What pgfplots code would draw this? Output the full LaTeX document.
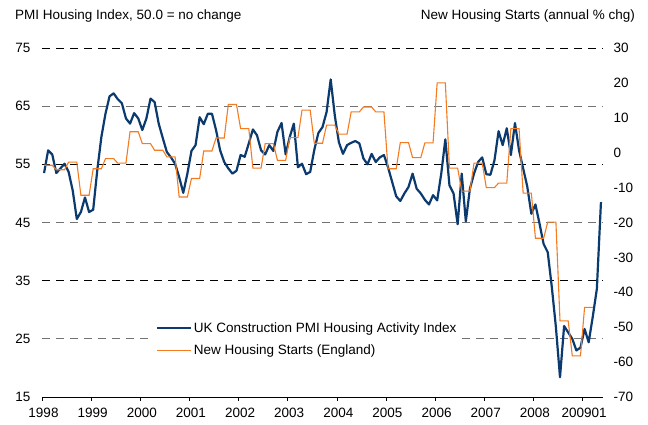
\documentclass[border=0pt]{standalone}
\usepackage{fontspec}
\setmainfont{Liberation Sans}
\usepackage{pgfplots}
\usepackage{pgfplotstable}
\pgfplotsset{compat=1.18}
\definecolor{pmiblue}{HTML}{0B3A6E}
\definecolor{hsorange}{HTML}{F47B20}

\pgfplotstableread{
m v
0 53.5
1 57.4
2 56.7
3 53.5
4 54.3
5 55.1
6 53.7
7 50.5
8 45.6
9 46.8
10 49.3
11 46.8
12 47.2
13 54.0
14 59.7
15 63.7
16 66.7
17 67.2
18 66.2
19 65.5
20 62.9
21 62.0
22 63.8
23 62.9
24 60.9
25 62.9
26 66.3
27 65.7
28 62.0
29 59.5
30 57.1
31 56.2
32 55.1
33 52.8
34 50.1
35 53.4
36 57.3
37 58.3
38 63.1
39 61.9
40 63.7
41 63.7
42 60.9
43 57.4
44 55.4
45 54.3
46 53.4
47 53.9
48 56.6
49 56.3
50 58.6
51 61.0
52 60.0
53 57.4
54 56.7
55 58.3
56 57.3
57 60.6
58 62.1
59 56.7
60 59.7
61 62.0
62 54.5
63 55.1
64 53.3
65 53.7
66 57.5
67 60.4
68 61.4
69 64.0
70 69.6
71 63.4
72 58.8
73 56.8
74 58.3
75 58.7
76 59.0
77 58.6
78 56.0
79 55.0
80 56.8
81 55.4
82 56.2
83 56.6
84 54.5
85 52.0
86 49.5
87 48.7
88 50.0
89 51.1
90 53.4
91 50.8
92 50.0
93 48.9
94 48.1
95 49.7
96 48.8
97 53.4
98 59.3
99 51.4
100 50.0
101 44.7
102 53.4
103 45.2
104 50.8
105 53.4
106 55.4
107 56.2
108 53.3
109 53.2
110 55.7
111 60.7
112 58.3
113 61.2
114 56.6
115 62.1
116 57.4
117 54.3
118 51.2
119 46.5
120 48.1
121 44.8
122 41.3
123 39.9
124 33.9
125 27.0
126 18.4
127 27.2
128 26.1
129 25.0
130 23.0
131 23.5
132 26.7
133 24.4
134 28.8
135 33.6
136 48.5
}\pmi

\pgfplotstableread{
m r
0 -3.6
1 -3.6
2 -3.6
3 -4.9
4 -4.9
5 -4.9
6 -2.7
7 -2.7
8 -2.7
9 -12.2
10 -12.2
11 -12.2
12 -4.6
13 -4.6
14 -4.6
15 -1.7
16 -1.7
17 -1.7
18 -3.0
19 -3.0
20 -3.0
21 6.0
22 6.0
23 6.0
24 2.6
25 2.6
26 2.6
27 0.7
28 0.7
29 0.7
30 -1.2
31 -1.2
32 -1.2
33 -12.7
34 -12.7
35 -12.7
36 -7.4
37 -7.4
38 -7.4
39 0.5
40 0.5
41 0.5
42 4.2
43 4.2
44 4.2
45 13.8
46 13.8
47 13.8
48 6.9
49 6.9
50 6.9
51 -4.4
52 -4.4
53 -4.4
54 2.6
55 2.6
56 2.6
57 -2.2
58 -2.2
59 -2.2
60 4.3
61 4.3
62 4.3
63 12.2
64 12.2
65 12.2
66 2.7
67 2.7
68 2.7
69 7.9
70 7.9
71 7.9
72 5.3
73 5.3
74 5.3
75 11.7
76 11.7
77 11.7
78 13.1
79 13.1
80 13.1
81 11.7
82 11.7
83 11.7
84 -4.6
85 -4.6
86 -4.6
87 2.9
88 2.9
89 2.9
90 -1.4
91 -1.4
92 -1.4
93 2.8
94 2.8
95 2.8
96 20.0
97 20.0
98 20.0
99 -4.4
100 -4.4
101 -4.4
102 -11.0
103 -11.0
104 -11.0
105 -3.0
106 -3.0
107 -3.0
108 -10.0
109 -10.0
110 -10.0
111 -8.7
112 -8.7
113 -8.7
114 6.9
115 6.9
116 6.9
117 -11.6
118 -11.6
119 -11.6
120 -24.5
121 -24.5
122 -24.5
123 -19.9
124 -19.9
125 -19.9
126 -48.2
127 -48.2
128 -48.2
129 -58.2
130 -58.2
131 -58.2
132 -44.3
133 -44.3
134 -44.3
}\hs

\begin{document}
\begin{tikzpicture}
\pgfplotsset{
  mybase/.style={
    at={(0pt,0pt)}, anchor=south west,
    scale only axis, width=561pt, height=349pt,
    xmin=0, xmax=137,
    /pgf/number format/assume math mode=true,
    tick label style={font=\fontsize{13.5}{15}\selectfont},
  }
}
\begin{axis}[
  mybase,
  ymin=15, ymax=75,
  axis x line*=bottom, axis y line*=left,
  x axis line style={-, line width=0.8pt},
  y axis line style={draw=none},
  every y tick/.style={draw=none},
  ytick={15,35,55,75},
  extra y ticks={25,45,65},
  ymajorgrids,
  major grid style={black, line width=0.6pt, dash pattern=on 8pt off 6pt},
  extra y tick style={major grid style={black!55, line width=1.1pt, dash pattern=on 8pt off 6pt}},
  yticklabel style={xshift=-4pt},
  xtick={0,12,...,132},
  xticklabels={1998,1999,2000,2001,2002,2003,2004,2005,2006,2007,2008,200901},
  tick align=outside,
  major tick length=4pt,
  xticklabel style={yshift=-4pt, xshift=1.5pt},
  every x tick/.style={black, line width=0.6pt},
]
\addplot[pmiblue, line width=2.2pt, line join=round] table[x expr=\thisrow{m}+0.5, y=v] {\pmi};
\end{axis}
\begin{axis}[
  mybase,
  ymin=-70, ymax=30,
  ytick={-70,-60,...,30},
  axis y line*=right,
  axis x line=none,
  y axis line style={draw=none},
  every y tick/.style={draw=none},
  yticklabel style={xshift=7pt},
  legend style={at={(0.196,0.105)}, anchor=south west, draw=none, fill=white,
    font=\fontsize{13.5}{15}\selectfont, row sep=7pt, inner xsep=4pt,
    nodes={inner xsep=1.5pt}},
  legend cell align=left,
  legend image code/.code={\draw[#1] (0pt,0pt) -- (34pt,0pt);},
]
\addlegendimage{pmiblue, line width=2.2pt}
\addlegendentry{UK Construction PMI Housing Activity Index\hspace{28pt}}
\addplot[hsorange, line width=1.1pt] table[x expr=\thisrow{m}+0.5, y=r] {\hs};
\addlegendentry{New Housing Starts (England)}
\end{axis}
\node[anchor=west, font=\fontsize{13.5}{15}\selectfont, inner sep=0pt] at (-27pt,381pt) {PMI Housing Index, 50.0 = no change};
\node[anchor=east, font=\fontsize{13.5}{15}\selectfont, inner sep=0pt] at (593pt,381pt) {New Housing Starts (annual \% chg)};
\useasboundingbox (-42pt,-28pt) rectangle (606pt,397pt);
\end{tikzpicture}
\end{document}
